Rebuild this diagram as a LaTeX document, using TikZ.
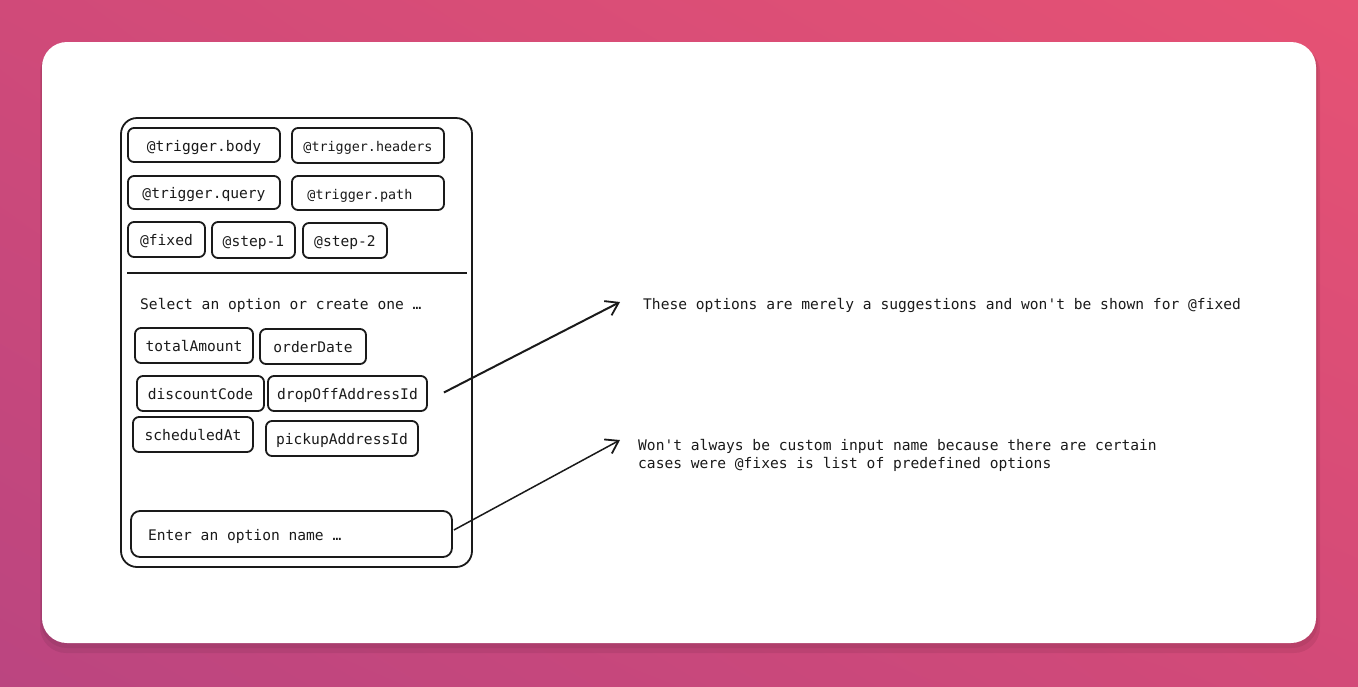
\documentclass[tikz,border=0pt]{standalone}
\usepackage{fontspec}
\setmonofont{DejaVu Sans Mono}
\usetikzlibrary{arrows.meta, positioning, calc, shadings}
\definecolor{bgTopLeft}{HTML}{D04A79}
\definecolor{bgTopRight}{HTML}{E65274}
\definecolor{bgBotLeft}{HTML}{BB4580}
\definecolor{bgBotRight}{HTML}{D34A78}
\definecolor{inkDark}{HTML}{1A1A1A}
\tikzset{
  optbox/.style={draw=inkDark, line width=1.8pt, rounded corners=6pt, inner sep=0pt,
    text height=12pt, text depth=0pt, font=\ttfamily\fontsize{14.6}{17}\selectfont, text=inkDark},
  smallopt/.style={optbox, font=\ttfamily\fontsize{13.4}{16}\selectfont},
  notetext/.style={inner sep=0pt, anchor=west, align=left, text=inkDark,
    font=\ttfamily\fontsize{14.6}{18}\selectfont},
  pointer/.style={-{Straight Barb[length=12pt, width=16pt, line width=1.8pt]}, line width=1.5pt, draw=inkDark},
}

\begin{document}
\begin{tikzpicture}[x=1pt, y=-1pt]
  \useasboundingbox (0,0) rectangle (1358,686);
  % backdrop and card
  \shade[upper left=bgTopLeft, upper right=bgTopRight, lower left=bgBotLeft, lower right=bgBotRight]
    (0,0) rectangle (1358,686);
  \fill[black, opacity=0.07, rounded corners=26pt] (40,46) rectangle (1320,653);
  \fill[black, opacity=0.06, rounded corners=26pt] (41,44) rectangle (1318,648);
  \fill[white, rounded corners=25pt] (42,42) rectangle (1316,643);

  % the picker panel
  \node[draw=inkDark, line width=1.8pt, rounded corners=16pt, minimum width=351pt,
    minimum height=449pt, inner sep=0pt] (panel) at (296.5,342.5) {};

  % variable chips
  \node[optbox, minimum width=152pt, minimum height=34pt] (tbody) at (204,145) {@trigger.body~};
  \node[smallopt, minimum width=152pt, minimum height=35pt] (theaders) at (368,145.5) {@trigger.headers};
  \node[optbox, minimum width=152pt, minimum height=33pt] (tquery) at (204,192.5) {@trigger.query};
  \node[smallopt, minimum width=152pt, minimum height=34pt] (tpath) at (368,193) {@trigger.path~~~};
  \node[optbox, minimum width=77pt, minimum height=35pt] (fixed) at (166.5,239.5) {@fixed};
  \node[optbox, minimum width=83pt, minimum height=36pt] (stepone) at (253.5,240) {@step-1};
  \node[optbox, minimum width=84pt, minimum height=35pt] (steptwo) at (345,240.5) {@step-2};

  \draw[inkDark, line width=2.2pt] (127,273) -- (467,273);

  % suggested options
  \node[notetext] (hint) at (140,305) {Select an option or create one …};
  \node[optbox, minimum width=118pt, minimum height=35pt] (total) at (194,345.5) {totalAmount};
  \node[optbox, minimum width=106pt, minimum height=35pt] (order) at (313,346.5) {orderDate};
  \node[optbox, minimum width=127pt, minimum height=35pt] (discount) at (200.5,393.5) {discountCode};
  \node[optbox, minimum width=159pt, minimum height=35pt] (dropoff) at (347.5,393.5) {dropOffAddressId};
  \node[optbox, minimum width=120pt, minimum height=35pt] (scheduled) at (193,434.5) {scheduledAt};
  \node[optbox, minimum width=152pt, minimum height=35pt] (pickup) at (342,438.5) {pickupAddressId};

  \node[optbox, minimum width=321pt, minimum height=46pt, rounded corners=9pt] (entry)
    at (291.5,534) {\makebox[287pt][l]{Enter an option name …}};

  % notes
  \node[notetext] (noteone) at (643,305) {These options are merely a suggestions and won't be shown for @fixed};
  \node[notetext] (notetwo) at (638,455) {Won't always be custom input name because there are certain\\cases were @fixes is list of predefined options};

  \draw[pointer, line width=2pt] ($(dropoff.east)+(16,-1)$) -- ($(noteone.west)+(-23,-3)$);
  \draw[pointer] ($(entry.east)+(1,-4)$) -- ($(notetwo.west)+(-18,-15)$);
\end{tikzpicture}
\end{document}
